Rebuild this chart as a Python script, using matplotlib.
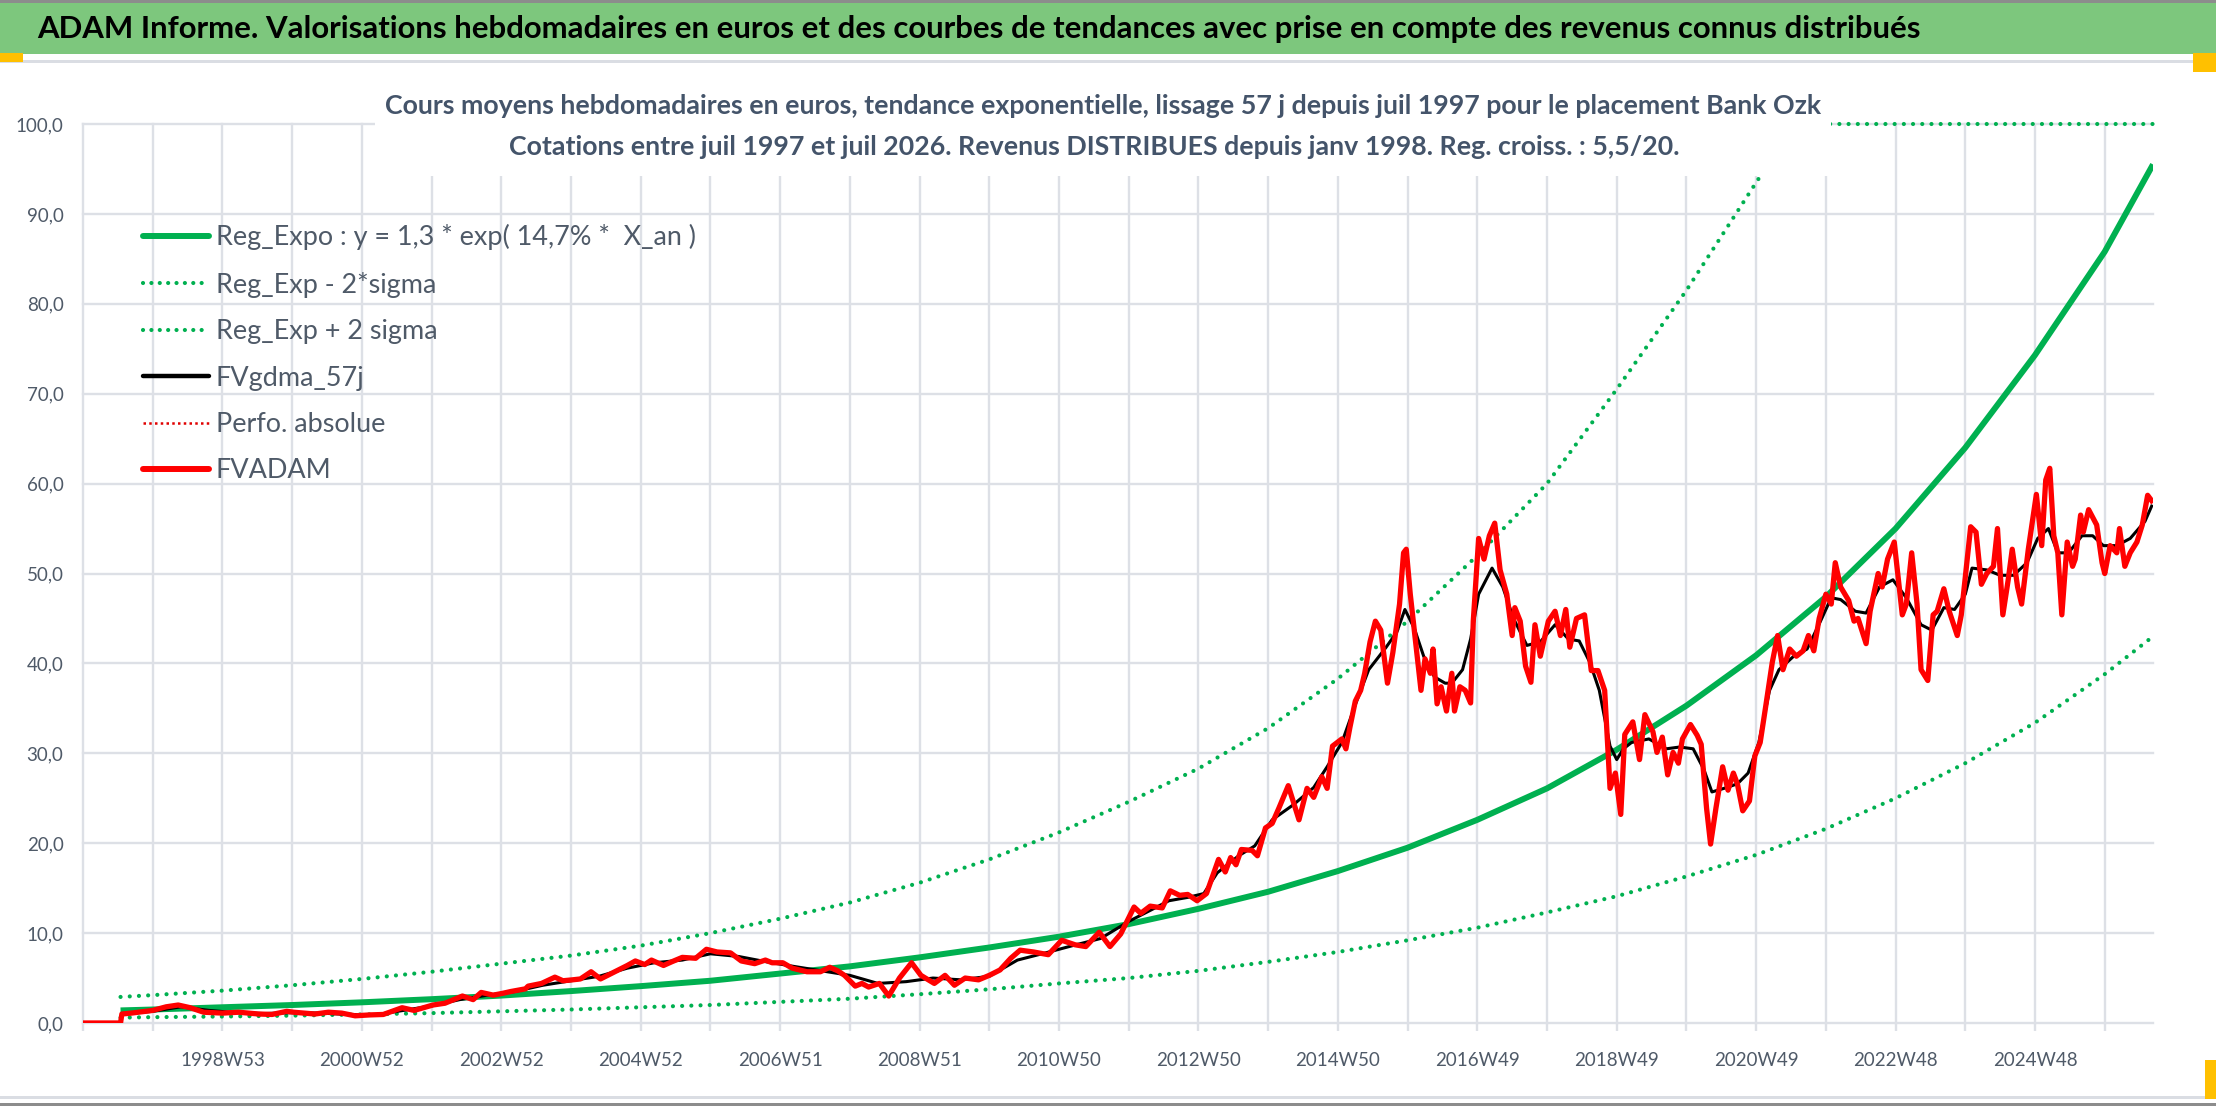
import matplotlib
matplotlib.use('Agg')
import matplotlib.pyplot as plt
from matplotlib import font_manager
from matplotlib.lines import Line2D
from matplotlib.patches import Rectangle

W, H = 2216, 1106

installed = {f.name for f in font_manager.fontManager.ttflist}
FONT = 'Liberation Sans Narrow' if 'Liberation Sans Narrow' in installed else 'Lato'
plt.rcParams['font.family'] = [FONT, 'DejaVu Sans']

# ---- data (x = week index from start of axis, gridline every 52 weeks) ----
red_weeks = [0, 28, 29, 36, 52, 62, 71, 80, 90, 104, 116, 131, 141, 152, 157, 173, 183, 193, 203, 214,
             224, 238, 247, 261, 270, 283, 291, 297, 306, 313, 319, 330, 332, 342, 352, 358, 365, 371, 379, 386,
             394, 406, 412, 419, 424, 433, 439, 447, 457, 465, 473, 483, 491, 501, 509, 514, 522, 529, 540, 550,
             557, 563, 568, 576, 581, 586, 594, 601, 609, 618, 625, 635, 643, 650, 658, 668, 676, 684, 692, 699,
             709, 720, 730, 740, 748, 758, 766, 774, 784, 789, 796, 805, 811, 818, 824, 831, 838, 847, 852, 856,
             860, 864, 872, 876, 882, 887, 892, 899, 903, 907, 913, 918, 924, 928, 932, 939, 942, 945, 949, 953,
             956, 960, 964, 968, 973, 977, 982, 985, 987, 990, 994, 998, 1001, 1005, 1007, 1010, 1013, 1017, 1021, 1023,
             1027, 1031, 1035, 1037, 1041, 1045, 1049, 1053, 1057, 1062, 1066, 1068, 1072, 1076, 1080, 1083, 1087, 1093, 1098, 1102,
             1106, 1109, 1114, 1120, 1125, 1130, 1135, 1139, 1143, 1147, 1150, 1156, 1161, 1165, 1171, 1174, 1178, 1182, 1186, 1190,
             1193, 1199, 1204, 1207, 1211, 1214, 1218, 1223, 1227, 1231, 1234, 1238, 1243, 1247, 1251, 1255, 1260, 1264, 1268, 1273,
             1278, 1283, 1287, 1291, 1295, 1300, 1304, 1307, 1311, 1317, 1321, 1324, 1330, 1333, 1339, 1342, 1346, 1351, 1357, 1360,
             1364, 1368, 1371, 1376, 1380, 1383, 1388, 1392, 1398, 1401, 1408, 1412, 1416, 1420, 1425, 1428, 1432, 1436, 1439, 1443,
             1446, 1451, 1457, 1461, 1464, 1467, 1470, 1473, 1476, 1480, 1484, 1486, 1490, 1492, 1496, 1502, 1506, 1508, 1512, 1517,
             1519, 1523, 1527, 1532, 1536, 1540, 1543]
red_vals = [0, 0, 1.0, 1.1, 1.4, 1.8, 2.0, 1.7, 1.2, 1.1, 1.2, 1.0, 0.95, 1.3, 1.2, 1.0, 1.2, 1.1, 0.8, 0.9,
            0.95, 1.7, 1.4, 2.0, 2.2, 3.0, 2.6, 3.4, 3.1, 3.3, 3.5, 3.8, 4.1, 4.4, 5.1, 4.7, 4.8, 4.9, 5.7, 4.9,
            5.5, 6.4, 6.9, 6.5, 7.0, 6.4, 6.8, 7.3, 7.2, 8.2, 7.9, 7.8, 6.9, 6.6, 7.0, 6.7, 6.7, 6.1, 5.7, 5.7,
            6.2, 5.8, 5.3, 4.1, 4.4, 4.0, 4.4, 3.0, 5.0, 6.7, 5.3, 4.4, 5.3, 4.2, 5.0, 4.8, 5.3, 5.9, 7.2, 8.1,
            7.9, 7.6, 9.2, 8.7, 8.5, 10.1, 8.5, 9.9, 12.9, 12.2, 13.0, 12.8, 14.7, 14.2, 14.3, 13.6, 14.4, 18.2, 16.8, 18.4,
            17.6, 19.3, 19.2, 18.6, 21.7, 22.2, 23.9, 26.4, 24.5, 22.6, 26.1, 25.1, 27.4, 26.1, 30.8, 31.6, 30.5, 32.9, 35.8, 37.0,
            38.9, 42.4, 44.7, 43.7, 37.8, 41.2, 46.6, 52.3, 52.7, 47.7, 42.4, 37.0, 40.5, 38.9, 41.6, 35.5, 37.4, 34.7, 38.9, 34.7,
            37.4, 37.0, 35.6, 44.7, 53.9, 51.6, 54.2, 55.6, 50.4, 47.7, 43.1, 46.2, 44.7, 39.7, 37.9, 44.3, 40.8, 44.7, 45.8, 43.1,
            46.0, 41.8, 45.0, 45.4, 39.2, 39.2, 37.0, 26.1, 27.8, 23.2, 32.1, 33.5, 29.3, 34.3, 32.4, 30.1, 31.8, 27.6, 30.1, 28.9,
            31.6, 33.2, 32.0, 31.0, 23.9, 19.9, 23.9, 28.5, 25.9, 27.8, 26.6, 23.6, 24.7, 29.7, 31.2, 35.1, 40.1, 43.1, 39.3, 41.6,
            40.8, 41.4, 43.1, 41.4, 45.0, 47.7, 46.6, 51.2, 48.5, 47.0, 44.7, 45.0, 42.2, 45.8, 50.0, 48.5, 51.6, 53.5, 45.4, 46.6,
            52.3, 46.6, 39.3, 38.1, 45.4, 45.8, 48.3, 45.8, 43.1, 45.4, 55.2, 54.6, 48.8, 50.0, 50.8, 55.0, 45.4, 49.3, 52.7, 48.5,
            46.6, 52.7, 58.8, 53.1, 60.4, 61.7, 54.2, 52.3, 45.4, 53.5, 50.8, 51.6, 56.5, 54.6, 57.1, 55.4, 51.2, 50.0, 53.1, 52.3,
            55.0, 50.8, 52.3, 53.5, 55.4, 58.7, 58.1]

black_weeks = [29, 52, 73, 94, 114, 135, 156, 177, 198, 218, 239, 260, 281, 302, 322, 343, 364, 385, 406, 426,
               447, 468, 489, 510, 530, 551, 572, 593, 614, 634, 655, 676, 697, 718, 738, 759, 780, 797, 810, 825,
               836, 846, 862, 874, 887, 903, 918, 928, 939, 949, 959, 972, 980, 986, 993, 1000, 1008, 1016, 1021, 1029,
               1035, 1041, 1051, 1059, 1067, 1077, 1087, 1098, 1108, 1116, 1124, 1131, 1139, 1144, 1149, 1155, 1168, 1181, 1191, 1201,
               1209, 1215, 1224, 1234, 1242, 1250, 1258, 1265, 1276, 1286, 1296, 1304, 1311, 1322, 1330, 1340, 1350, 1360, 1371, 1379,
               1388, 1396, 1404, 1409, 1420, 1430, 1440, 1450, 1458, 1466, 1473, 1481, 1491, 1499, 1507, 1517, 1527, 1538, 1543]
black_vals = [1.0, 1.3, 1.8, 1.4, 1.15, 1.05, 1.15, 1.1, 0.95, 0.9, 1.4, 1.9, 2.6, 3.1, 3.5, 4.2, 4.7, 5.2, 6.1, 6.7,
              7.0, 7.7, 7.4, 6.8, 6.3, 5.8, 5.3, 4.4, 4.6, 5.0, 4.8, 5.2, 7.0, 7.8, 8.6, 9.4, 11.3, 12.6, 13.6, 14.0,
              14.4, 16.7, 18.6, 19.7, 22.6, 24.3, 26.2, 28.5, 31.2, 35.4, 39.3, 41.8, 43.5, 46.0, 43.9, 40.8, 38.5, 37.8, 37.8, 39.3,
              42.7, 47.7, 50.6, 48.5, 45.0, 42.0, 42.4, 44.3, 42.7, 42.5, 40.1, 37.0, 30.8, 29.3, 30.5, 31.2, 31.6, 30.5, 30.7, 30.5,
              28.2, 25.7, 26.1, 26.6, 27.8, 31.2, 37.0, 39.3, 40.8, 41.6, 44.7, 47.3, 47.1, 45.8, 45.6, 48.5, 49.3, 47.3, 44.3, 43.7,
              46.2, 46.0, 47.7, 50.6, 50.4, 49.8, 49.8, 51.2, 53.9, 55.0, 52.3, 52.3, 54.2, 54.2, 53.1, 53.1, 53.9, 55.8, 57.5]

trend_weeks = [28, 52, 104, 156, 208, 260, 312, 364, 416, 468, 520, 572, 624, 676, 728, 780,
               832, 884, 936, 988, 1040, 1092, 1144, 1196, 1248, 1300, 1352, 1404, 1456, 1508, 1544]
trend_vals = [1.4, 1.5, 1.75, 2.0, 2.3, 2.65, 3.05, 3.55, 4.1, 4.7, 5.5, 6.3, 7.3, 8.4, 9.6, 11.0,
              12.7, 14.6, 16.9, 19.5, 22.6, 26.1, 30.4, 35.3, 40.9, 47.4, 55.0, 64.0, 74.3, 85.8, 95.5]
low_vals = [0.6, 0.65, 0.72, 0.82, 0.95, 1.1, 1.3, 1.5, 1.75, 2.0, 2.35, 2.7, 3.2, 3.75, 4.4, 5.0,
            5.8, 6.8, 7.9, 9.2, 10.6, 12.3, 14.1, 16.3, 18.7, 21.6, 25.0, 28.9, 33.4, 38.8, 43.0]
up_weeks = [28, 52, 104, 156, 208, 260, 312, 364, 416, 468, 520, 572, 624, 676, 728, 780,
            832, 884, 936, 988, 1040, 1092, 1144, 1196, 1248, 1277, 1300, 1352, 1404, 1456, 1508, 1544]
up_vals = [2.9, 3.1, 3.6, 4.2, 4.9, 5.7, 6.6, 7.5, 8.6, 10.0, 11.6, 13.4, 15.6, 18.2, 21.2, 24.6,
           28.3, 32.8, 38.3, 44.7, 52.0, 60.0, 70.5, 81.5, 93.5, 100, 100, 100, 100, 100, 100, 100]

year_ticks = list(range(0, 1545, 52))
tick_labels = ['', '', '1998W53', '', '2000W52', '', '2002W52', '', '2004W52', '', '2006W51', '',
               '2008W51', '', '2010W50', '', '2012W50', '', '2014W50', '', '2016W49', '', '2018W49', '',
               '2020W49', '', '2022W48', '', '2024W48', '']
y_ticks = list(range(0, 101, 10))

title = ("ADAM Informe. Valorisations hebdomadaires en euros et des courbes de tendances "
         "avec prise en compte des revenus connus distribués")
sub1 = "Cours moyens hebdomadaires en euros, tendance exponentielle, lissage 57 j depuis juil 1997 pour le placement Bank Ozk"
sub2 = "Cotations entre juil 1997 et juil 2026. Revenus DISTRIBUES depuis janv 1998. Reg. croiss. : 5,5/20."
legend_labels = ['Reg_Expo : y = 1,3 * exp( 14,7% *  X_an )', 'Reg_Exp - 2*sigma', 'Reg_Exp + 2 sigma',
                 'FVgdma_57j', 'Perfo. absolue', 'FVADAM']

GREEN = '#00B050'
GRID = '#DDE0E6'
TXT = '#4F5A68'


def fx(x):
    return x / W


def fy(y):
    return 1 - y / H


fig = plt.figure(figsize=(W / 100, H / 100), dpi=100)
fig.patch.set_facecolor('white')
renderer = fig.canvas.get_renderer()


def fit_size(text, width_px, weight='normal'):
    t = fig.text(0, 0, text, fontsize=20, fontweight=weight)
    w = t.get_window_extent(renderer).width
    t.remove()
    return 20 * width_px / w


# frame pieces
def band(x0, y0, x1, y1, color, z=1):
    fig.patches.append(Rectangle((fx(x0), fy(y1)), fx(x1) - fx(x0), fy(y0) - fy(y1),
                                 transform=fig.transFigure, facecolor=color, edgecolor='none', zorder=z))


band(0, 0, W, 3, '#8C8C8C')
band(0, 3, W, 54, '#7DC77D')
band(0, 60, W, 63, '#DADDE3')
band(0, 53, 23, 62, '#FFC000', 2)
band(2193, 53, W, 72, '#FFC000', 2)
band(0, 1096, W, 1099, '#DADDE3')
band(0, 1103, W, H, '#8C8C8C')
band(2205, 1060, W, 1099, '#FFC000', 2)

fig.text(fx(37), fy(29), title, fontsize=fit_size(title, 1880, 'bold'), fontweight='bold',
         color='black', ha='left', va='center')

# plot area
ax = fig.add_axes([fx(83), fy(1023), fx(2153) - fx(83), fy(124) - fy(1023)])
ax.set_xlim(0, 1544)
ax.set_ylim(0, 100)
for s in ax.spines.values():
    s.set_visible(False)
ax.set_xticks(year_ticks)
ax.set_xticklabels(tick_labels)
ax.set_yticks(y_ticks)
ax.set_yticklabels([('%.1f' % v).replace('.', ',') for v in y_ticks])
ax.grid(True, color=GRID, lw=1.7, zorder=0)
ax.set_axisbelow(True)
for gl in ax.get_xgridlines() + ax.get_ygridlines():
    gl.set_clip_on(False)
tick_fs = fit_size('100,0', 48)
ax.tick_params(axis='y', length=0, pad=14, labelsize=tick_fs, labelcolor=TXT)
ax.tick_params(axis='x', length=6, width=1.7, color=GRID, pad=15, labelsize=tick_fs, labelcolor=TXT)

dots = (0, (0.01, 2.2))
ax.plot(trend_weeks, trend_vals, color=GREEN, lw=4.3, solid_capstyle='butt', zorder=3)
ax.plot(trend_weeks, low_vals, color=GREEN, lw=3, linestyle=dots, dash_capstyle='round', zorder=3)
ax.plot(up_weeks, up_vals, color=GREEN, lw=3, linestyle=dots, dash_capstyle='round', zorder=3, clip_on=False)
ax.plot(black_weeks, black_vals, color='black', lw=2.2, zorder=4)
ax.plot(red_weeks, red_vals, color='#FF0000', lw=3.8, solid_joinstyle='round', zorder=5)

leg_fs = fit_size(legend_labels[0], 480)
handles = [Line2D([], [], color=GREEN, lw=4.3, solid_capstyle='round'),
           Line2D([], [], color=GREEN, lw=3, linestyle=(0, (0.01, 2.0)), dash_capstyle='round'),
           Line2D([], [], color=GREEN, lw=3, linestyle=(0, (0.01, 2.0)), dash_capstyle='round'),
           Line2D([], [], color='black', lw=3.2, solid_capstyle='round'),
           Line2D([], [], color='#E00000', lw=1.8, linestyle=(0, (1, 1.3))),
           Line2D([], [], color='#FF0000', lw=4.3, solid_capstyle='round')]
ax.legend(handles, legend_labels, loc='upper left', bbox_to_anchor=(fx(143), fy(224)),
          bbox_transform=fig.transFigure, frameon=False, borderpad=0, borderaxespad=0,
          fontsize=leg_fs, labelcolor=TXT, handlelength=47.5 / leg_fs,
          handletextpad=4.7 / leg_fs, labelspacing=(38.2 - 1.17 * leg_fs) / leg_fs)

# subtitle box over the top of the plot
band(375, 84, 1831, 176, 'white', 5)
sub_fs = fit_size(sub1, 1443, 'bold')
fig.text(fx(1103), fy(106), sub1, fontsize=sub_fs, fontweight='bold', color='#44546A',
         ha='center', va='center', zorder=6)
fig.text(fx(1094), fy(147), sub2, fontsize=sub_fs, fontweight='bold', color='#44546A',
         ha='center', va='center', zorder=6)

fig.savefig('out.png', dpi=100)
